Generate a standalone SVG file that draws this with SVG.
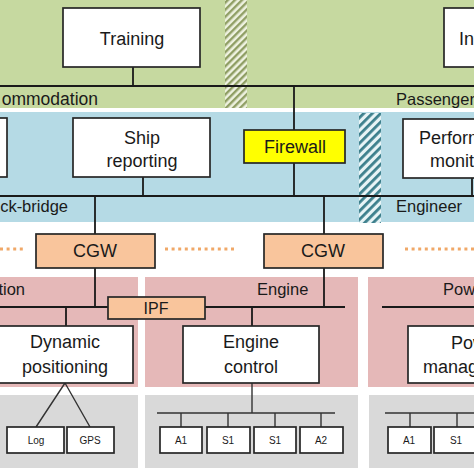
<svg xmlns="http://www.w3.org/2000/svg" width="474" height="474" viewBox="0 0 474 474">
<style>
.box{fill:#fff;stroke:#262626;stroke-width:1.7}
.cgw{fill:#F9C59C;stroke:#262626;stroke-width:1.7}
.fw{fill:#FFFF00;stroke:#262626;stroke-width:1.7}
.ln{stroke:#1a1a1a;stroke-width:1.8;fill:none}
.sl{stroke:#333;stroke-width:1.4;fill:none}
.t{font-family:"Liberation Sans",Arial,sans-serif;font-size:18px;fill:#1a1a1a;text-anchor:middle}
.lb{font-family:"Liberation Sans",Arial,sans-serif;font-size:16.5px;fill:#1a1a1a}
.s{font-family:"Liberation Sans",Arial,sans-serif;font-size:10px;fill:#1a1a1a;text-anchor:middle}
.dot{stroke:#F0A868;stroke-width:3;stroke-dasharray:3 3.6;fill:none}
</style>
<defs>
<pattern id="hg" width="5" height="5" patternUnits="userSpaceOnUse" patternTransform="rotate(45)">
<rect width="5" height="5" fill="#EEF2E0"/>
<rect width="2.4" height="5" fill="#8F9E64"/>
</pattern>
<pattern id="hb" width="6" height="6" patternUnits="userSpaceOnUse" patternTransform="rotate(45)">
<rect width="6" height="6" fill="#E8F4F6"/>
<rect width="2.8" height="6" fill="#3C7F8C"/>
</pattern>
</defs>
<rect width="474" height="474" fill="#fff"/>
<g id="zones">
<rect x="0" y="0" width="474" height="108" fill="#C6D9A0"/>
<rect x="225" y="0" width="22" height="108" fill="url(#hg)"/>
<rect x="0" y="112" width="474" height="110" fill="#B5DAE5"/>
<rect x="359" y="113" width="22" height="110" fill="url(#hb)"/>
<rect x="0" y="277" width="138" height="110" fill="#E5B8B8"/>
<rect x="145" y="277" width="213" height="110" fill="#E5B8B8"/>
<rect x="368" y="277" width="106" height="110" fill="#E5B8B8"/>
<rect x="0" y="395" width="138" height="73" fill="#D9D9D9"/>
<rect x="145" y="395" width="213" height="73" fill="#D9D9D9"/>
<rect x="369" y="395" width="105" height="73" fill="#D9D9D9"/>
<text class="lb" x="98" y="105" text-anchor="end" style="font-size:17.5px">ommodation</text>
<text class="lb" x="396" y="105">Passenger</text>
<text class="lb" x="68" y="212" text-anchor="end">ck-bridge</text>
<text class="lb" x="396" y="212">Engineer</text>
<text class="lb" x="25" y="295" text-anchor="end">tion</text>
<text class="lb" x="257" y="295">Engine</text>
<text class="lb" x="443" y="295">Pow</text>
</g>
<g id="connectors">
<path class="dot" d="M0 249H25M165 249H236M405 249H474"/>
<path class="ln" d="M133 67V86M0 86H474M294 86V130M294 163V196M0 196H474M143 177V196M472 178V196M95 196V234M324 196V234"/>
<path class="ln" d="M95 268V307M0 307H108M66 307V326M324 268V307M205 307H345M252 307V326M382 307H474"/>
<path class="sl" d="M65 383L36 427M65 383L90 427M252 383V413M157 413H335M181 413V427M228 413V427M275 413V427M321 413V427M385 413H474M410 413V427M457 413V427"/>
</g>
<g id="training"><rect class="box" x="63" y="8" width="137" height="59"/><text class="t" x="132" y="45">Training</text></g>
<g id="in-box"><rect class="box" x="444" y="8" width="40" height="59"/><text class="t" x="459" y="45" style="text-anchor:start">In</text></g>
<g id="left-box"><rect class="box" x="-10" y="118" width="17" height="59"/></g>
<g id="ship-reporting"><rect class="box" x="73" y="118" width="137" height="59"/><text class="t" x="142" y="144">Ship</text><text class="t" x="142" y="167">reporting</text></g>
<g id="firewall"><rect class="fw" x="244" y="130" width="101" height="33"/><text class="t" x="295" y="153">Firewall</text></g>
<g id="performance"><rect class="box" x="403" y="119" width="80" height="59"/><text class="t" x="419" y="144" style="text-anchor:start">Perform</text><text class="t" x="430" y="167" style="text-anchor:start">monit</text></g>
<g id="cgw1"><rect class="cgw" x="36" y="234" width="119" height="34"/><text class="t" x="95" y="257">CGW</text></g>
<g id="cgw2"><rect class="cgw" x="264" y="234" width="119" height="34"/><text class="t" x="323" y="257">CGW</text></g>
<g id="ipf"><rect class="cgw" x="108" y="297" width="97" height="22"/><text class="t" x="156" y="314" style="font-size:16px">IPF</text></g>
<g id="dynamic-positioning"><rect class="box" x="-2" y="326" width="135" height="57"/><text class="t" x="65" y="348">Dynamic</text><text class="t" x="65" y="373">positioning</text></g>
<g id="engine-control"><rect class="box" x="183" y="326" width="136" height="57"/><text class="t" x="251" y="348">Engine</text><text class="t" x="251" y="373">control</text></g>
<g id="power-management"><rect class="box" x="408" y="326" width="80" height="57"/><text class="t" x="451" y="349" style="text-anchor:start">Pow</text><text class="t" x="423" y="373" style="text-anchor:start">manag</text></g>
<g id="log"><rect class="box" x="7" y="427" width="57" height="26"/><text class="s" x="36" y="444">Log</text></g>
<g id="gps"><rect class="box" x="67" y="427" width="47" height="26"/><text class="s" x="90" y="444">GPS</text></g>
<g id="a1-engine"><rect class="box" x="160" y="427" width="42" height="26"/><text class="s" x="181" y="444">A1</text></g>
<g id="s1-engine-a"><rect class="box" x="207" y="427" width="43" height="26"/><text class="s" x="228" y="444">S1</text></g>
<g id="s1-engine-b"><rect class="box" x="254" y="427" width="42" height="26"/><text class="s" x="275" y="444">S1</text></g>
<g id="a2-engine"><rect class="box" x="300" y="427" width="43" height="26"/><text class="s" x="321" y="444">A2</text></g>
<g id="a1-power"><rect class="box" x="388" y="427" width="43" height="26"/><text class="s" x="409" y="444">A1</text></g>
<g id="s1-power"><rect class="box" x="434" y="427" width="44" height="26"/><text class="s" x="456" y="444">S1</text></g>
</svg>
